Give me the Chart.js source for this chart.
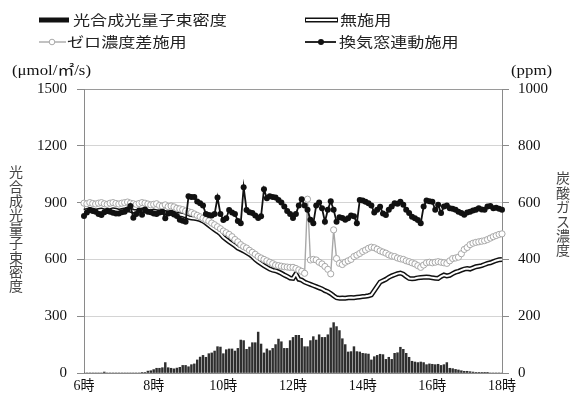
<!DOCTYPE html>
<html>
<head>
<meta charset="utf-8">
<script src="https://cdn.jsdelivr.net/npm/chart.js@4.4.1/dist/chart.umd.min.js"></script>
<style>
  html, body { margin: 0; padding: 0; background: #fff; }
  #wrap { position: relative; width: 573px; height: 397px; }
</style>
</head>
<body>
<div id="wrap"><canvas id="c" width="573" height="397"></canvas></div>
<script>
// 5-minute readings from 6:00 to 18:00 (145 samples)
const TIMES = [];
for (let m = 6 * 60; m <= 18 * 60; m += 5) {
  TIMES.push(Math.floor(m / 60) + ':' + String(m % 60).padStart(2, '0'));
}
const HOUR_LABELS = ['6時', '8時', '10時', '12時', '14時', '16時', '18時'];
const PPFD_TICKS = [0, 300, 600, 900, 1200, 1500];
const CO2_TICKS = [0, 200, 400, 600, 800, 1000];

// 光合成光量子束密度 (μmol/㎡/s)
const PPFD = [
  0, 0, 0, 0, 0, 0, 0, 5, 0, 0, 0, 0, 0, 0, 0, 0, 0, 0, 0, 0,
  3, 3, 10, 12, 18, 25, 25, 28, 55, 28, 25, 22, 26, 30, 40, 40, 33, 44, 48, 69,
  84, 93, 83, 102, 106, 116, 139, 137, 102, 123, 127, 127, 116, 130, 174, 171, 125, 137, 160, 160,
  216, 153, 106, 127, 118, 130, 150, 179, 165, 130, 130, 171, 188, 199, 199, 183, 139, 139,
  171, 192, 174, 202, 188, 188, 202, 238, 266, 245, 224, 181, 150, 111, 113, 139, 113, 111, 104, 102,
  100, 69, 86, 93, 99, 97, 72, 83, 72, 104, 107, 136, 125, 104, 83, 62, 58, 55, 58, 55,
  44, 48, 46, 44, 46, 40, 44, 55, 25, 23, 19, 16, 12, 9, 9, 7, 5, 2, 2,
  2, 1, 1, 0, 0, 0, 0, 0
];

// 炭酸ガス濃度 (ppm): 無施用
const CO2_NONE = [
  570, 572, 575, 573, 570, 572, 574, 571, 569, 572, 575, 573, 570, 572, 574, 576, 573, 570, 568, 571,
  574, 572, 569, 567, 570, 568, 566, 568, 565, 563, 566, 563, 560, 558, 556, 553,
  548, 546, 545, 543, 540, 535, 528, 520, 512, 505, 498, 490, 478, 470, 462, 455, 448, 440, 435, 430,
  424, 418, 410, 400, 392, 385, 378, 372, 366, 362, 360, 356, 351, 345, 340, 334, 333, 349, 330, 327,
  320, 316, 312, 308, 304, 300, 296, 290, 286, 280, 272, 265, 263, 264, 263, 265, 266, 265, 267, 268,
  269, 270, 272, 275, 290, 305, 320, 325, 330, 337, 342, 346, 350, 352, 348, 340, 333, 332, 333, 335,
  336, 337, 338, 337, 335, 334, 333, 340, 345, 342, 344, 350, 355, 358, 362, 366, 368, 366, 370, 374,
  376, 378, 382, 386, 388, 392, 396, 399, 400
];

// 炭酸ガス濃度 (ppm): ゼロ濃度差施用
const CO2_ZERO = [
  598, 596, 600, 597, 595, 598, 600, 596, 594, 598, 600, 597, 595, 598, 600, 602, 598, 596, 594, 597,
  600, 598, 595, 592, 594, 596, 590, 588, 592, 586, 588, 585, 580, 578, 575, 570,
  568, 565, 560, 555, 550, 545, 540, 535, 528, 522, 515, 508, 500, 494, 488, 480, 470, 462, 452, 445,
  440, 432, 425, 418, 410, 405, 400, 395, 390, 385, 380, 378, 376, 374, 373, 372, 372, 368, 363, 358,
  351, 612, 398, 400, 398, 390, 384, 375, 365, 349, 504, 403, 386, 382, 390, 395, 400, 410, 415, 421,
  428, 433, 439, 443, 441, 436, 430, 426, 422, 416, 412, 410, 405, 402, 400, 395, 392, 388, 384, 378,
  372, 380, 388, 390, 388, 390, 392, 390, 388, 386, 395, 403, 405, 408, 420, 435, 442, 452, 457, 460,
  462, 464, 466, 470, 475, 480, 484, 488, 490
];

// 炭酸ガス濃度 (ppm): 換気窓連動施用
const CO2_VENT = [
  553, 565, 574, 570, 568, 560, 556, 566, 571, 568, 564, 562, 562, 566, 568, 576, 588, 547, 560, 572,
  557, 576, 568, 566, 562, 560, 565, 568, 545, 562, 563, 558, 553, 540, 536, 533,
  622, 620, 620, 604, 598, 590, 560, 556, 555, 560, 618, 560,
  539, 545, 574, 565, 560, 535, 527, 654, 574, 566, 563, 555, 546, 552, 647, 615, 622, 620, 618, 609,
  600, 586, 570, 560, 546, 560, 590, 612, 590, 575, 540, 527, 590, 600, 580, 533, 575, 605, 575, 533,
  548, 546, 540, 545, 555, 552, 527, 609, 607, 603, 598, 590, 565, 575, 585, 562, 556, 575, 586, 598,
  596, 603, 592, 575, 563, 550, 545, 539, 527, 586, 607, 605, 603, 575, 592, 563, 586, 590, 580, 578,
  575, 568, 563, 557, 565, 568, 572, 575, 580, 576, 575, 586, 588, 580, 582, 578, 575
];

const SERIES_NAMES = ['光合成光量子束密度', '無施用', 'ゼロ濃度差施用', '換気窓連動施用'];

const SERIF = "'Liberation Serif', 'Noto Sans CJK JP', serif";
const CJK = "'Noto Sans CJK JP', sans-serif";
const AXIS_GREY = '#8a8a8a';

// Legend, unit captions and upright vertical axis titles
const captions = {
  id: 'captions',
  afterDraw(chart) {
    const ctx = chart.ctx;
    const ds = chart.data.datasets;
    const stretch = (text, x, y, sx) => {
      ctx.save();
      ctx.translate(x, y);
      ctx.scale(sx, 1);
      ctx.fillText(text, 0, 0);
      ctx.restore();
    };
    ctx.save();
    ctx.textBaseline = 'middle';
    ctx.textAlign = 'left';
    ctx.fillStyle = '#222';
    ctx.font = '14px ' + CJK;

    const row1 = 20, row2 = 42;
    // bar swatch
    ctx.fillStyle = '#111';
    ctx.fillRect(39, row1 - 2.5, 30, 5);
    ctx.fillStyle = '#222';
    stretch(ds[0].label, 73, row1, 1.22);

    // double line swatch
    ctx.lineCap = 'butt';
    ctx.strokeStyle = ds[1].borderColor; ctx.lineWidth = ds[1].borderWidth;
    ctx.beginPath(); ctx.moveTo(305, row1); ctx.lineTo(338, row1); ctx.stroke();
    ctx.strokeStyle = ds[2].borderColor; ctx.lineWidth = ds[2].borderWidth;
    ctx.beginPath(); ctx.moveTo(306, row1); ctx.lineTo(337, row1); ctx.stroke();
    stretch(ds[1].label, 340, row1, 1.22);

    // open-circle swatch
    ctx.strokeStyle = ds[3].borderColor; ctx.lineWidth = ds[3].borderWidth;
    ctx.beginPath(); ctx.moveTo(39, row2); ctx.lineTo(66, row2); ctx.stroke();
    ctx.fillStyle = '#fff'; ctx.lineWidth = 1;
    ctx.beginPath(); ctx.arc(52, row2, 2.8, 0, Math.PI * 2); ctx.fill(); ctx.stroke();
    ctx.fillStyle = '#222';
    stretch(ds[3].label, 67, row2, 1.22);

    // filled-dot swatch
    ctx.strokeStyle = ds[4].borderColor; ctx.lineWidth = ds[4].borderWidth;
    ctx.beginPath(); ctx.moveTo(305, row2); ctx.lineTo(336, row2); ctx.stroke();
    ctx.fillStyle = '#111';
    ctx.beginPath(); ctx.arc(321, row2, 3, 0, Math.PI * 2); ctx.fill();
    ctx.fillStyle = '#222';
    stretch(ds[4].label, 339, row2, 1.22);

    // unit captions
    ctx.font = '14px ' + SERIF;
    ctx.fillStyle = '#111';
    stretch('(μmol/㎡/s)', 12, 71, 1.2);
    stretch('(ppm)', 511, 71, 1.2);

    // upright vertical titles
    ctx.font = '14px ' + CJK;
    ctx.fillStyle = '#444';
    ctx.textAlign = 'center';
    const left = '光合成光量子束密度';
    for (let k = 0; k < left.length; k++) ctx.fillText(left[k], 16, 172 + k * 14.2);
    const right = '炭酸ガス濃度';
    for (let k = 0; k < right.length; k++) ctx.fillText(right[k], 563, 178 + k * 14.4);
    ctx.restore();
  }
};

new Chart(document.getElementById('c'), {
  data: {
    labels: TIMES,
    datasets: [
      {
        type: 'bar', label: SERIES_NAMES[0], data: PPFD, yAxisID: 'y', order: 5,
        backgroundColor: '#2e2e2e', barThickness: 1.8
      },
      {
        type: 'line', label: SERIES_NAMES[1], data: CO2_NONE, yAxisID: 'y1', order: 4,
        borderColor: '#111', borderWidth: 5, pointRadius: 0, tension: 0
      },
      {
        type: 'line', label: SERIES_NAMES[1], data: CO2_NONE, yAxisID: 'y1', order: 3,
        borderColor: '#fff', borderWidth: 2, pointRadius: 0, tension: 0
      },
      {
        type: 'line', label: SERIES_NAMES[2], data: CO2_ZERO, yAxisID: 'y1', order: 2,
        borderColor: '#a8a8a8', borderWidth: 1.4, tension: 0,
        pointRadius: 3.1, pointBorderWidth: 1, pointBackgroundColor: '#fff', pointBorderColor: '#a8a8a8'
      },
      {
        type: 'line', label: SERIES_NAMES[3], data: CO2_VENT, yAxisID: 'y1', order: 1,
        borderColor: '#111', borderWidth: 1.8, tension: 0,
        pointRadius: 3, pointBorderWidth: 0, pointBackgroundColor: '#111'
      }
    ]
  },
  options: {
    responsive: false,
    animation: false,
    devicePixelRatio: 1,
    layout: { padding: { top: 89, left: 0, right: 0, bottom: 0 } },
    plugins: { legend: { display: false }, tooltip: { enabled: false } },
    scales: {
      x: {
        type: 'category',
        offset: false,
        grid: { display: false, drawTicks: false, tickLength: 0 },
        border: { display: true, color: AXIS_GREY, width: 1 },
        ticks: {
          autoSkip: false, maxRotation: 0, minRotation: 0, padding: 5,
          color: '#111', font: { family: SERIF, size: 14 },
          callback: (v, i) => (i % 24 === 0 ? HOUR_LABELS[i / 24] : '')
        },
        afterFit(s) { s.height = 24; }
      },
      y: {
        position: 'left', min: 0, max: 1500,
        afterBuildTicks(s) { s.ticks = PPFD_TICKS.map(v => ({ value: v })); },
        grid: {
          color: c => (c.tick && c.tick.value === 1500 ? '#9a9a9a' : '#d4d4d4'),
          tickColor: AXIS_GREY, tickLength: 7, lineWidth: 1
        },
        border: { color: AXIS_GREY, width: 1 },
        ticks: { padding: 10, color: '#111', font: { family: SERIF, size: 15 }, callback: v => String(v) },
        afterFit(s) { s.width = 84; }
      },
      y1: {
        position: 'right', min: 0, max: 1000,
        afterBuildTicks(s) { s.ticks = CO2_TICKS.map(v => ({ value: v })); },
        grid: { drawOnChartArea: false, tickColor: AXIS_GREY, tickLength: 7 },
        border: { color: AXIS_GREY, width: 1 },
        ticks: { padding: 9, color: '#111', font: { family: SERIF, size: 15 }, callback: v => String(v) },
        afterFit(s) { s.width = 71; }
      }
    }
  },
  plugins: [captions]
});
</script>
</body>
</html>
